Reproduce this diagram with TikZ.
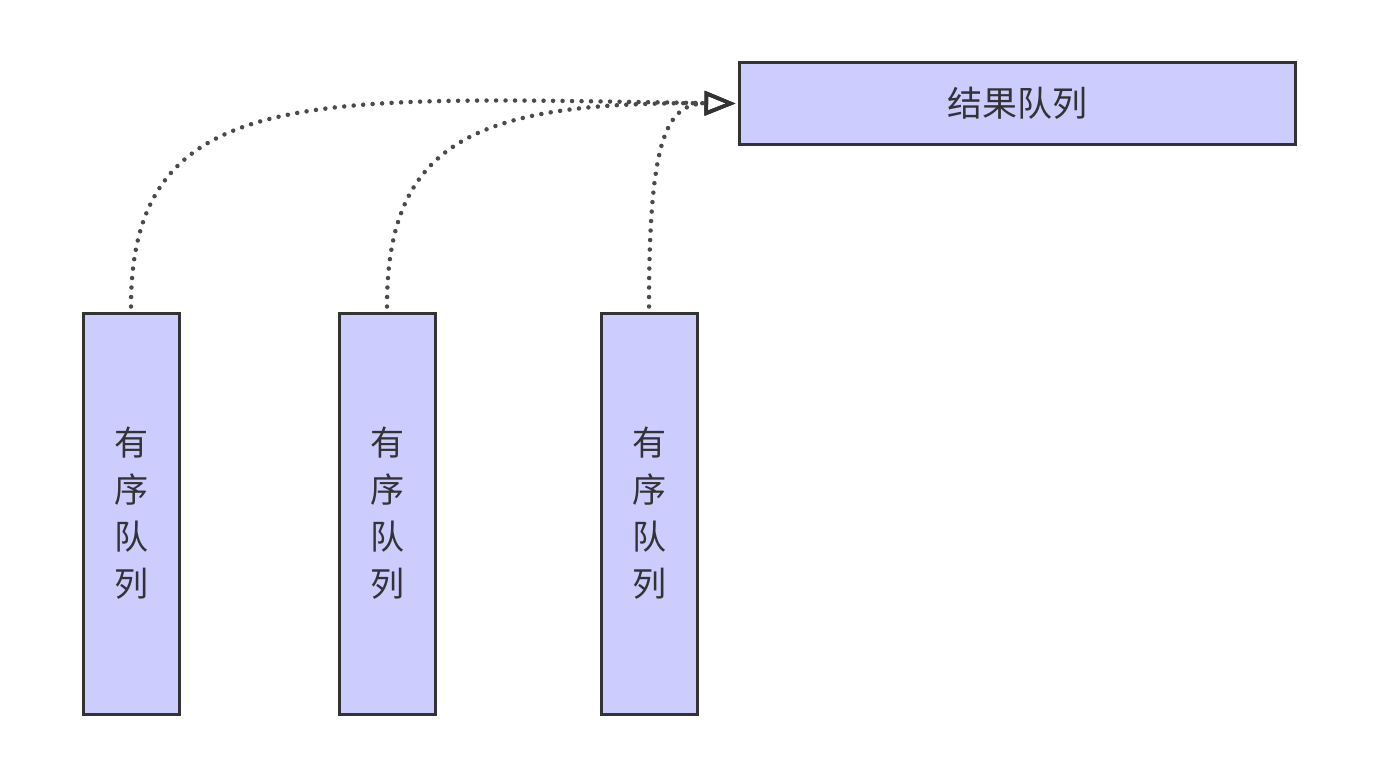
\documentclass[tikz,border=0pt]{standalone}
\usepackage{fontspec}
\setmainfont{Noto Sans CJK SC}
\usetikzlibrary{arrows.meta}
\definecolor{boxfill}{HTML}{CCCCFF}
\definecolor{boxline}{HTML}{333333}
\definecolor{edgecol}{HTML}{4A4A4A}
\begin{document}
\begin{tikzpicture}[x=1pt,y=-1pt,
  qbox/.style={draw=boxline,fill=boxfill,line width=3pt,minimum width=96pt,minimum height=401pt,inner sep=0pt,align=center,text=boxline,font=\fontsize{34pt}{47pt}\selectfont},
  rbox/.style={draw=boxline,fill=boxfill,line width=3pt,minimum width=556pt,minimum height=81pt,inner sep=0pt,text=boxline,font=\fontsize{35pt}{40pt}\selectfont},
  flow/.style={draw=edgecol,line width=4.5pt,line cap=round,dash pattern=on 0pt off 9.5pt,-{Triangle[open,length=31pt,width=24pt,line width=3.5pt,color=boxline]}}]
\useasboundingbox (0,0) rectangle (1376,784);
\node[rbox] (res) at (1017,103.5) {结果队列};
\node[qbox] (q1) at (131,513.5) {有\\序\\队\\列};
\node[qbox] (q2) at (387,513.5) {有\\序\\队\\列};
\node[qbox] (q3) at (649,513.5) {有\\序\\队\\列};
\draw[flow] ([yshift=5pt]q1.north) .. controls +(0,-225) and +(-420,-6) .. ([xshift=-2pt]res.west);
\draw[flow] ([yshift=5pt]q2.north) .. controls +(0,-165) and +(-260,-2) .. ([xshift=-2pt]res.west);
\draw[flow] ([yshift=5pt]q3.north) .. controls +(0,-165) and +(-70,0) .. ([xshift=-2pt]res.west);
\end{tikzpicture}
\end{document}
